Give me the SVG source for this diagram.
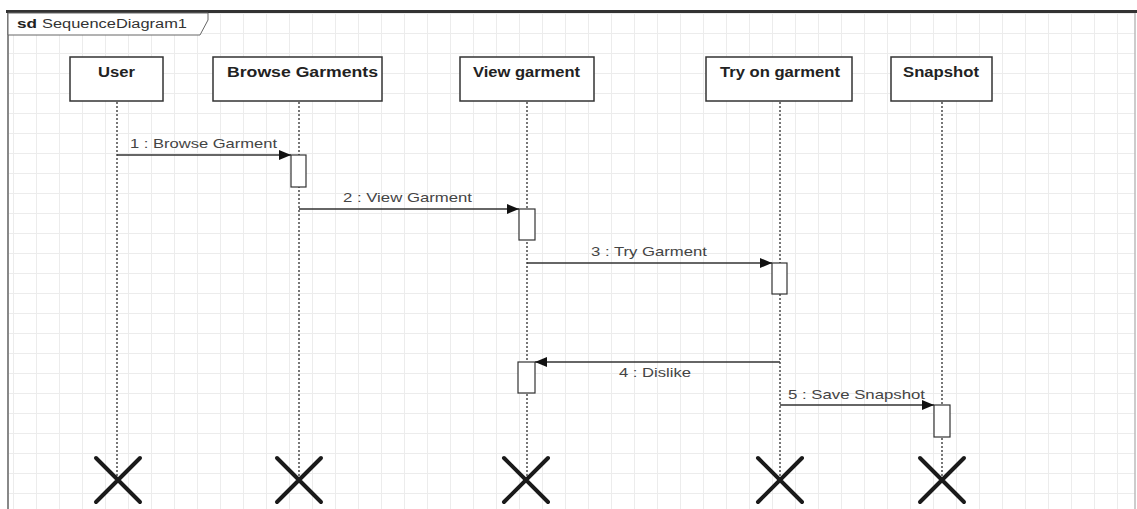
<svg xmlns="http://www.w3.org/2000/svg" width="1137" height="509" viewBox="0 0 1137 509">
  <defs>
    <pattern id="grid" x="13" y="13" width="23" height="20" patternUnits="userSpaceOnUse">
      <path d="M0 0.5 H23 M0.5 0 V20" fill="none" stroke="#ececec" stroke-width="1"/>
    </pattern>
    <marker id="arrow" viewBox="0 0 12 10" refX="12" refY="5" markerWidth="12" markerHeight="10" markerUnits="userSpaceOnUse" orient="auto">
      <path d="M0 0 L12 5 L0 10 Z" fill="#111"/>
    </marker>
    <style>
      .head { fill: #fff; stroke: #333; stroke-width: 1.5; }
      .headtxt { font-family: "Liberation Sans", Arial, sans-serif; font-weight: bold; font-size: 14px; fill: #222; }
      .life { stroke: #555; stroke-width: 1.6; stroke-dasharray: 2 2; fill: none; }
      .act { fill: #fff; stroke: #333; stroke-width: 1.2; }
      .msg { stroke: #333; stroke-width: 1.3; fill: none; marker-end: url(#arrow); }
      .msgtxt { font-family: "Liberation Sans", Arial, sans-serif; font-size: 13px; fill: #444; }
      .kill { stroke: #1a1a1a; stroke-width: 4; stroke-linecap: round; fill: none; }
    </style>
  </defs>

  <!-- canvas and grid -->
  <rect x="0" y="0" width="1137" height="509" fill="#fff"/>
  <rect x="8" y="12" width="1127" height="497" fill="url(#grid)"/>

  <!-- frame -->
  <g id="frame">
    <line x1="8" y1="12" x2="8" y2="509" stroke="#888" stroke-width="2"/>
    <line x1="1135" y1="12" x2="1135" y2="509" stroke="#bbb" stroke-width="1.5"/>
    <line x1="6" y1="11.5" x2="1137" y2="11.5" stroke="#333" stroke-width="3"/>
    <path d="M8 13 H208 V20 L200 35 H8 Z" fill="#fff" stroke="#666" stroke-width="1"/>
    <text x="17" y="28" font-family="Liberation Sans, Arial, sans-serif" font-size="12.5" font-weight="bold" fill="#222" textLength="20" lengthAdjust="spacingAndGlyphs">sd</text>
    <text x="42" y="28" font-family="Liberation Sans, Arial, sans-serif" font-size="12.5" fill="#333" textLength="145" lengthAdjust="spacingAndGlyphs">SequenceDiagram1</text>
  </g>

  <!-- lifelines -->
  <g id="user">
    <rect class="head" x="70" y="57" width="93" height="44"/>
    <text class="headtxt" x="98" y="77" textLength="37" lengthAdjust="spacingAndGlyphs">User</text>
    <line class="life" x1="117" y1="102" x2="117" y2="478"/>
    <path class="kill" d="M96 458 L140 502 M140 458 L96 502"/>
  </g>
  <g id="browse-garments">
    <rect class="head" x="213" y="57" width="169" height="44"/>
    <text class="headtxt" x="227" y="77" textLength="151" lengthAdjust="spacingAndGlyphs">Browse Garments</text>
    <line class="life" x1="299" y1="102" x2="299" y2="478"/>
    <path class="kill" d="M277 458 L321 502 M321 458 L277 502"/>
  </g>
  <g id="view-garment">
    <rect class="head" x="460" y="57" width="134" height="44"/>
    <text class="headtxt" x="473" y="77" textLength="107" lengthAdjust="spacingAndGlyphs">View garment</text>
    <line class="life" x1="527" y1="102" x2="527" y2="478"/>
    <path class="kill" d="M504 458 L548 502 M548 458 L504 502"/>
  </g>
  <g id="try-on-garment">
    <rect class="head" x="706" y="57" width="146" height="44"/>
    <text class="headtxt" x="720" y="77" textLength="120" lengthAdjust="spacingAndGlyphs">Try on garment</text>
    <line class="life" x1="780" y1="102" x2="780" y2="478"/>
    <path class="kill" d="M758 458 L802 502 M802 458 L758 502"/>
  </g>
  <g id="snapshot">
    <rect class="head" x="891" y="57" width="101" height="44"/>
    <text class="headtxt" x="903" y="77" textLength="76" lengthAdjust="spacingAndGlyphs">Snapshot</text>
    <line class="life" x1="942" y1="102" x2="942" y2="478"/>
    <path class="kill" d="M920 458 L964 502 M964 458 L920 502"/>
  </g>

  <!-- activations -->
  <g id="activations">
    <rect class="act" x="291" y="155" width="15" height="32"/>
    <rect class="act" x="519" y="209" width="16" height="31"/>
    <rect class="act" x="772" y="263" width="15" height="31"/>
    <rect class="act" x="518" y="362" width="17" height="31"/>
    <rect class="act" x="934" y="405" width="16" height="32"/>
  </g>

  <!-- messages -->
  <g id="connectors">
    <line class="msg" x1="117" y1="155" x2="291" y2="155"/>
    <text class="msgtxt" x="130" y="148" textLength="147" lengthAdjust="spacingAndGlyphs">1 : Browse Garment</text>

    <line class="msg" x1="299" y1="209" x2="519" y2="209"/>
    <text class="msgtxt" x="343" y="202" textLength="129" lengthAdjust="spacingAndGlyphs">2 : View Garment</text>

    <line class="msg" x1="527" y1="263" x2="772" y2="263"/>
    <text class="msgtxt" x="591" y="256" textLength="116" lengthAdjust="spacingAndGlyphs">3 : Try Garment</text>

    <line class="msg" x1="780" y1="362" x2="535" y2="362"/>
    <text class="msgtxt" x="619" y="377" textLength="72" lengthAdjust="spacingAndGlyphs">4 : Dislike</text>

    <line class="msg" x1="780" y1="405" x2="934" y2="405"/>
    <text class="msgtxt" x="788" y="399" textLength="137" lengthAdjust="spacingAndGlyphs">5 : Save Snapshot</text>
  </g>
</svg>
